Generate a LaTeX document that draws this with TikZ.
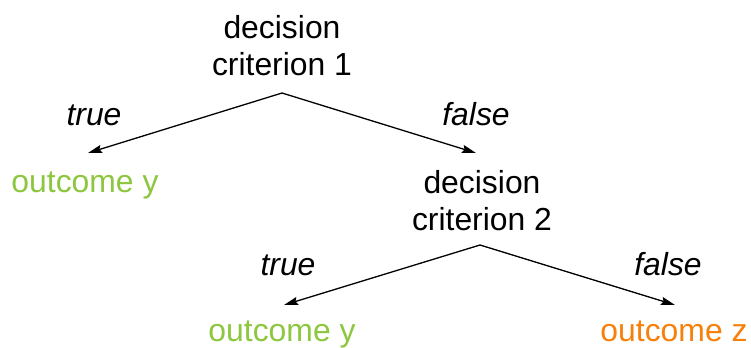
\documentclass[tikz,border=0pt]{standalone}
\usepackage{fontspec}
\setmainfont{Liberation Sans}
\usetikzlibrary{arrows.meta}
\definecolor{outgreen}{RGB}{141,198,63}
\definecolor{outorange}{RGB}{247,128,10}
\tikzset{
  lbl/.style={font=\fontsize{32}{37}\selectfont, inner sep=0pt, anchor=base, align=center},
  crit/.style={lbl},
  edgelbl/.style={lbl, font=\fontsize{32}{37}\selectfont\itshape},
  outy/.style={lbl, text=outgreen},
  outz/.style={lbl, text=outorange},
  arr/.style={line width=1.3bp, -{Stealth[length=14bp, width=8bp, inset=2bp]}}
}
\begin{document}
\begin{tikzpicture}[x=1bp, y=-1bp]
  \useasboundingbox (0,0) rectangle (751,347);

  % decision nodes (anchored at the baseline of their last line)
  \node[crit] (c1) at (282,75) {decision\\criterion 1};
  \node[crit] (c2) at (482,230) {decision\\criterion 2};

  % outcomes
  \node[outy] (y1) at (85,192) {outcome y};
  \node[outy] (y2) at (282,341) {outcome y};
  \node[outz] (z2) at (674,341) {outcome z};

  % branch labels
  \node[edgelbl] (t1) at (94,125) {true};
  \node[edgelbl] (f1) at (476,125) {false};
  \node[edgelbl] (t2) at (288,275) {true};
  \node[edgelbl] (f2) at (668,275) {false};

  % branch points and arrow ends
  \coordinate (a1) at (282,93);
  \coordinate (a2) at (480,245);
  \coordinate (e1) at (88,153);
  \coordinate (e2) at (476,153);
  \coordinate (e3) at (284,305);
  \coordinate (e4) at (675,305);

  \draw[arr] (a1) -- (e1);
  \draw[arr] (a1) -- (e2);
  \draw[arr] (a2) -- (e3);
  \draw[arr] (a2) -- (e4);
\end{tikzpicture}
\end{document}
